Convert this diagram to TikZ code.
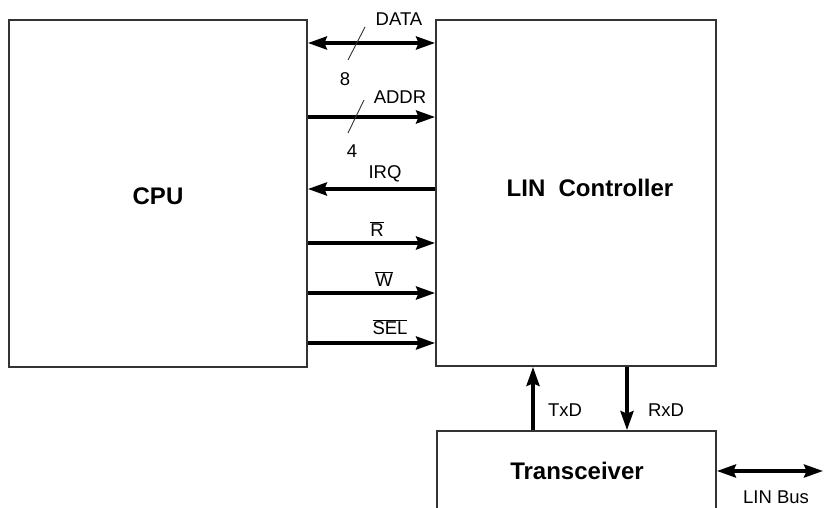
\documentclass[tikz,border=0pt]{standalone}
\usepackage{fontspec}
\setmainfont{Liberation Sans}
\usetikzlibrary{arrows.meta}
\begin{document}
\begin{tikzpicture}[x=1pt,y=-1pt,
  blk/.style={draw=black!80,line width=1.8pt,inner sep=0pt},
  sig/.style={line width=3.6pt,-{Stealth[length=19pt,width=13pt,inset=2.5pt]}},
  bsig/.style={line width=3.6pt,{Stealth[length=19pt,width=13pt,inset=2.5pt]}-{Stealth[length=19pt,width=13pt,inset=2.5pt]}},
  lbl/.style={font=\fontsize{18.5}{20}\selectfont,inner sep=0pt},
  big/.style={font=\fontsize{24}{27}\selectfont\bfseries,inner sep=0pt},
  slash/.style={line width=0.9pt,draw=black!80}]
\useasboundingbox (0,0) rectangle (824,508);
\node[blk,minimum width=298pt,minimum height=347pt] (cpu) at (158,193.5) {};
\node[big] (cpulbl) at (158,196) {CPU};
\node[blk,minimum width=280pt,minimum height=346pt] (lin) at (576,193) {};
\node[big] (linlbl) at (590,188) {LIN\ \ Controller};
\node[blk,minimum width=279pt,minimum height=110pt] (trx) at (576.5,486) {};
\node[big] (trxlbl) at (577,471) {Transceiver};
% bus signals
\draw[bsig] (cpu.east |- 0,43) -- (lin.west |- 0,43);
\draw[sig] (cpu.east |- 0,117) -- (lin.west |- 0,117);
\draw[sig] (lin.west |- 0,189) -- (cpu.east |- 0,189);
\draw[sig] (cpu.east |- 0,243) -- (lin.west |- 0,243);
\draw[sig] (cpu.east |- 0,293) -- (lin.west |- 0,293);
\draw[sig] (cpu.east |- 0,343) -- (lin.west |- 0,343);
% width slashes
\coordinate (s1a) at (365,27); \coordinate (s1b) at (348,60);
\coordinate (s2a) at (364,100); \coordinate (s2b) at (348,133);
\draw[slash] (s1a) -- (s1b);
\draw[slash] (s2a) -- (s2b);
\node[lbl] (ldata) at (399,19) {DATA};
\node[lbl] (l8) at (345,79) {8};
\node[lbl] (laddr) at (400,97) {ADDR};
\node[lbl] (l4) at (352,151) {4};
\node[lbl] (lirq) at (385,174) {IRQ};
\node[lbl] (lr) at (377,229) {$\overline{\mbox{R}}$};
\node[lbl] (lw) at (384,279) {$\overline{\mbox{W}}$};
\node[lbl] (lsel) at (390,327) {$\overline{\mbox{SEL}}$};
% transceiver links
\draw[sig] (trx.north -| 533,0) -- (lin.south -| 533,0);
\draw[sig] (lin.south -| 627,0) -- (trx.north -| 627,0);
\node[lbl] (ltxd) at (565,410) {TxD};
\node[lbl] (lrxd) at (666,410) {RxD};
\coordinate (busend) at (823,471);
\draw[bsig] (trx.east |- 0,471) -- (busend);
\node[lbl] (lbus) at (776,497) {LIN Bus};
\end{tikzpicture}
\end{document}
